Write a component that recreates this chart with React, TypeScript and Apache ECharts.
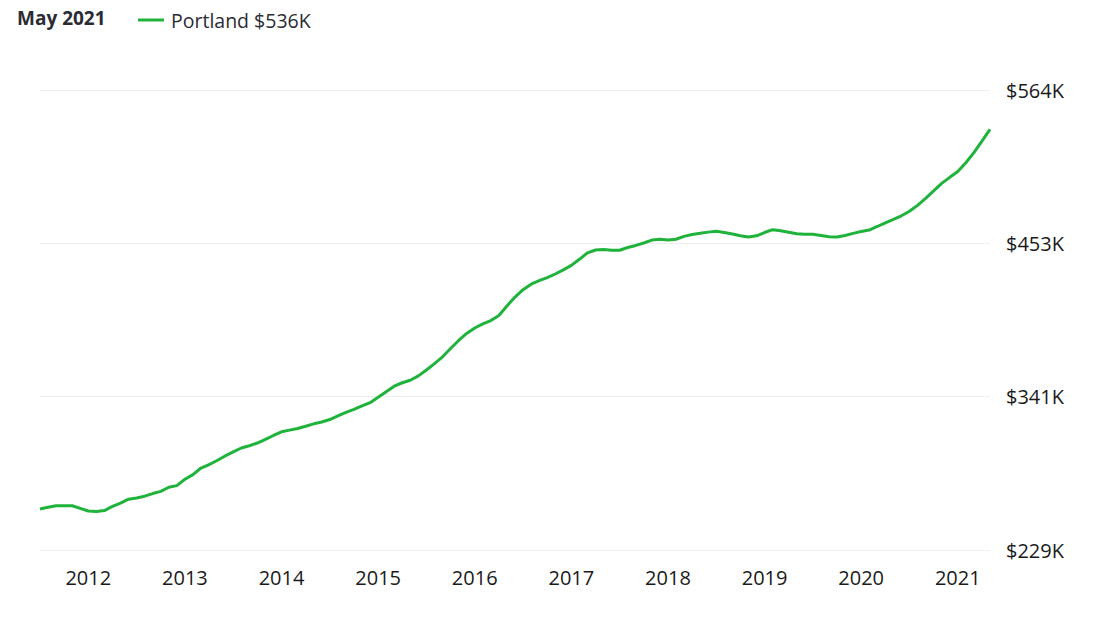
import React, { useEffect, useRef } from 'react';
import * as echarts from 'echarts';

// ---- data ----
const startYear = 2011;
const startMonth = 7; // July 2011
// Typical home value, Portland, thousands of dollars, monthly Jul 2011 .. May 2021
const homeValuesK: number[] = [
  259.3, 260.5, 261.6, 261.7, 261.6, 259.7, 257.8, 257.4, 258.1, 261.2, 263.6, 266.4,
  267.3, 268.6, 270.5, 272.1, 275.1, 276.3, 280.9, 284.3, 289.1, 291.6, 294.6, 297.9,
  300.8, 303.7, 305.3, 307.3, 309.9, 312.8, 315.5, 316.7, 317.9, 319.5, 321.3, 322.6,
  324.4, 327.0, 329.6, 331.8, 334.4, 336.7, 340.6, 344.7, 348.7, 351.2, 353.0, 356.2,
  360.5, 365.1, 370.1, 376.1, 382.0, 387.1, 391.1, 394.1, 396.5, 400.2, 407.1, 413.6,
  419.0, 423.0, 425.5, 427.8, 430.4, 433.4, 436.7, 441.1, 445.8, 447.9, 448.2, 447.7,
  447.7, 449.7, 451.2, 453.0, 455.1, 455.7, 455.1, 455.7, 457.8, 459.2, 460.0, 460.9,
  461.5, 460.6, 459.5, 458.3, 457.3, 458.2, 460.6, 462.7, 461.9, 460.8, 459.7, 459.3,
  459.3, 458.5, 457.5, 457.3, 458.4, 460.0, 461.3, 462.4, 465.0, 467.7, 470.2, 472.8,
  476.1, 480.4, 485.5, 490.9, 496.4, 500.8, 505.0, 511.4, 518.8, 527.2, 535.7,
];
const months: string[] = homeValuesK.map((_, i) => {
  const m0 = startMonth - 1 + i;
  const y = startYear + Math.floor(m0 / 12);
  const m = (m0 % 12) + 1;
  return `${y}-${String(m).padStart(2, '0')}`;
});
const yTickLabels = ['$229K', '$341K', '$453K', '$564K'];
const yAxisMinK = 229.4;
const yAxisMaxK = 564.4;
const seriesName = 'Portland $536K';
const dateLabel = 'May 2021';

const GREEN = '#1fb33b';
const FONT = '"Open Sans", "Noto Sans", sans-serif';

export default function App() {
  const ref = useRef<HTMLDivElement>(null);

  useEffect(() => {
    if (!ref.current) return;
    const chart = echarts.init(ref.current, undefined, { renderer: 'svg' });
    const span = yAxisMaxK - yAxisMinK;
    const interval = span / (yTickLabels.length - 1);
    chart.setOption({
      animation: false,
      textStyle: { fontFamily: FONT },
      grid: { left: 40, right: 110, top: 90, bottom: 79, containLabel: false },
      graphic: [
        {
          type: 'text',
          left: 17,
          top: 8,
          style: {
            text: dateLabel,
            fontFamily: FONT,
            fontWeight: 700,
            fontSize: 19,
            fill: '#2b2b33',
          },
        },
      ],
      legend: {
        left: 133,
        top: 5,
        icon: 'rect',
        itemWidth: 26,
        itemHeight: 3,
        textStyle: { fontFamily: FONT, fontSize: 19.5, color: '#2b2b33', padding: [0, 0, 0, 2] },
        data: [seriesName],
      },
      xAxis: {
        type: 'category',
        data: months,
        boundaryGap: false,
        axisLine: { show: false },
        axisTick: { show: false },
        splitLine: { show: false },
        axisLabel: {
          interval: (_i: number, v: string) => v.endsWith('-01'),
          formatter: (v: string) => v.slice(0, 4),
          fontFamily: FONT,
          fontSize: 20,
          color: '#1a1a1a',
          margin: 17,
        },
      },
      yAxis: {
        type: 'value',
        position: 'right',
        min: 0,
        max: span,
        interval,
        axisLine: { show: false },
        axisTick: { show: false },
        splitLine: { show: true, lineStyle: { color: '#efefef', width: 1 } },
        axisLabel: {
          formatter: (val: number) => yTickLabels[Math.round(val / interval)] ?? '',
          fontFamily: FONT,
          fontSize: 20,
          color: '#1a1a1a',
          margin: 16,
        },
      },
      series: [
        {
          name: seriesName,
          type: 'line',
          data: homeValuesK.map((v) => +(v - yAxisMinK).toFixed(2)),
          showSymbol: false,
          symbol: 'none',
          smooth: false,
          lineStyle: { color: GREEN, width: 3 },
          itemStyle: { color: GREEN },
        },
      ],
    });
    return () => chart.dispose();
  }, []);

  return (
    <div
      ref={ref}
      style={{ position: 'absolute', left: 0, top: 0, width: 1100, height: 629, background: '#fff' }}
    />
  );
}
